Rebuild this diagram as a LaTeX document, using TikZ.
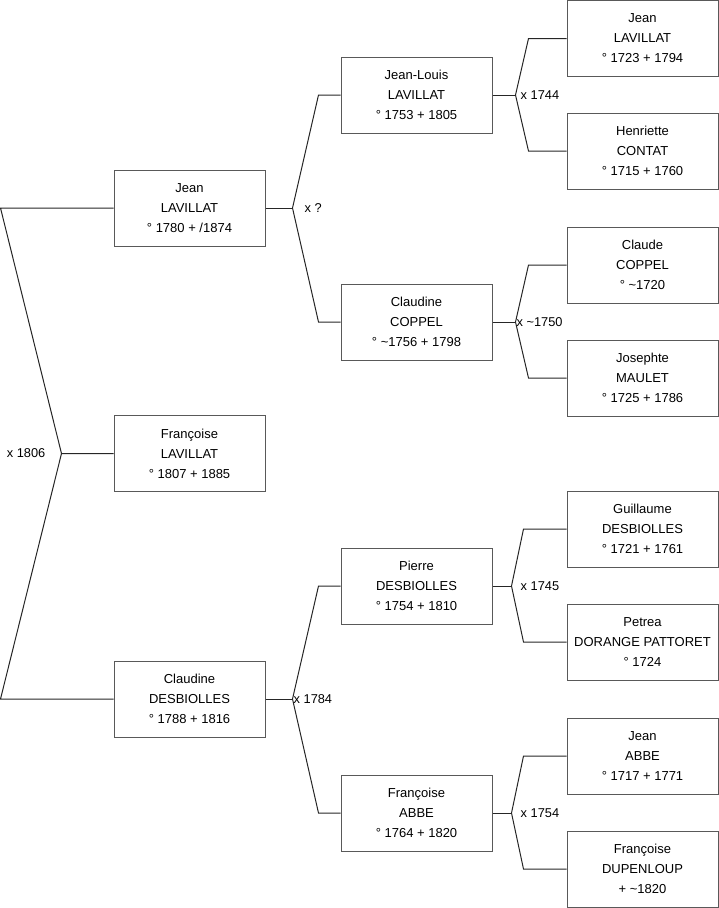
\documentclass[tikz,border=0pt]{standalone}
\usepackage{fontspec}
\setmainfont{Liberation Sans}
\usetikzlibrary{positioning,calc}

\tikzset{
  person/.style={draw=black!65, line width=1pt, rectangle, minimum width=151pt,
                 minimum height=76pt, inner sep=0pt, align=center,
                 font=\fontsize{13}{20}\selectfont},
  wed/.style={inner sep=1pt, font=\fontsize{12.8}{14}\selectfont},
  link/.style={draw=black!85, line width=1pt},
}

\begin{document}
\begin{tikzpicture}[x=1pt,y=-1pt]
  \useasboundingbox (0,0) rectangle (719,908);

  % generation 1
  \node[person] (jean)      at (189.5,208) {Jean\\LAVILLAT\\° 1780 + /1874};
  \node[person] (francoise) at (189.5,453.5) {Françoise\\LAVILLAT\\° 1807 + 1885};
  \node[person] (claudine)  at (189.5,699) {Claudine\\DESBIOLLES\\° 1788 + 1816};

  % generation 2
  \node[person] (jeanlouis) at (416.5,95)  {Jean-Louis\\LAVILLAT\\° 1753 + 1805};
  \node[person] (coppel)    at (416.5,322) {Claudine\\COPPEL\\° \textasciitilde1756 + 1798};
  \node[person] (pierre)    at (416.5,586) {Pierre\\DESBIOLLES\\° 1754 + 1810};
  \node[person] (abbe)      at (416.5,813) {Françoise\\ABBE\\° 1764 + 1820};

  % generation 3
  \node[person] (jeanl)     at (642.5,38.5) {Jean\\LAVILLAT\\° 1723 + 1794};
  \node[person] (contat)    at (642.5,151)  {Henriette\\CONTAT\\° 1715 + 1760};
  \node[person] (claude)    at (642.5,265)  {Claude\\COPPEL\\° \textasciitilde1720};
  \node[person] (maulet)    at (642.5,378)  {Josephte\\MAULET\\° 1725 + 1786};
  \node[person] (guillaume) at (642.5,529)  {Guillaume\\DESBIOLLES\\° 1721 + 1761};
  \node[person] (petrea)    at (642.5,642)  {Petrea\\DORANGE PATTORET\\° 1724};
  \node[person] (jeana)     at (642.5,756)  {Jean\\ABBE\\° 1717 + 1771};
  \node[person] (dupenloup) at (642.5,869)  {Françoise\\DUPENLOUP\\+ \textasciitilde1820};

  % Jean x Claudine
  \coordinate (m0) at ($(francoise.west)+(-52,0)$);
  \draw[link] (jean.west) -- ++(-113,0) -- (m0) -- (francoise.west);
  \draw[link] (claudine.west) -- ++(-113,0) -- (m0);
  \node[wed, left=15pt of m0] {x 1806};

  % parents of Jean
  \coordinate (m1) at ($(jean.east)+(27,0)$);
  \draw[link] (jean.east) -- (m1);
  \draw[link] (jeanlouis.west) -- ++(-22,0) -- (m1) -- ($(coppel.west)+(-22,0)$) -- (coppel.west);
  \node[wed, right=11pt of m1] {x ?};

  % parents of Claudine
  \coordinate (m2) at ($(claudine.east)+(27,0)$);
  \draw[link] (claudine.east) -- (m2);
  \draw[link] (pierre.west) -- ++(-22,0) -- (m2) -- ($(abbe.west)+(-22,0)$) -- (abbe.west);
  \node[wed, right=0pt of m2] {x 1784};

  % parents of Jean-Louis
  \coordinate (m3) at ($(jeanlouis.east)+(23,0)$);
  \draw[link] (jeanlouis.east) -- (m3);
  \draw[link] (jeanl.west) -- ++(-38,0) -- (m3) -- ($(contat.west)+(-38,0)$) -- (contat.west);
  \node[wed, right=4pt of m3] {x 1744};

  % parents of Claudine Coppel
  \coordinate (m4) at ($(coppel.east)+(23,0)$);
  \draw[link] (coppel.east) -- (m4);
  \draw[link] (claude.west) -- ++(-38,0) -- (m4) -- ($(maulet.west)+(-38,0)$) -- (maulet.west);
  \node[wed, right=0pt of m4] {x \textasciitilde1750};

  % parents of Pierre
  \coordinate (m5) at ($(pierre.east)+(19,0)$);
  \draw[link] (pierre.east) -- (m5);
  \draw[link] (guillaume.west) -- ++(-43,0) -- (m5) -- ($(petrea.west)+(-43,0)$) -- (petrea.west);
  \node[wed, right=8pt of m5] {x 1745};

  % parents of Francoise Abbe
  \coordinate (m6) at ($(abbe.east)+(19,0)$);
  \draw[link] (abbe.east) -- (m6);
  \draw[link] (jeana.west) -- ++(-43,0) -- (m6) -- ($(dupenloup.west)+(-43,0)$) -- (dupenloup.west);
  \node[wed, right=8pt of m6] {x 1754};
\end{tikzpicture}
\end{document}
